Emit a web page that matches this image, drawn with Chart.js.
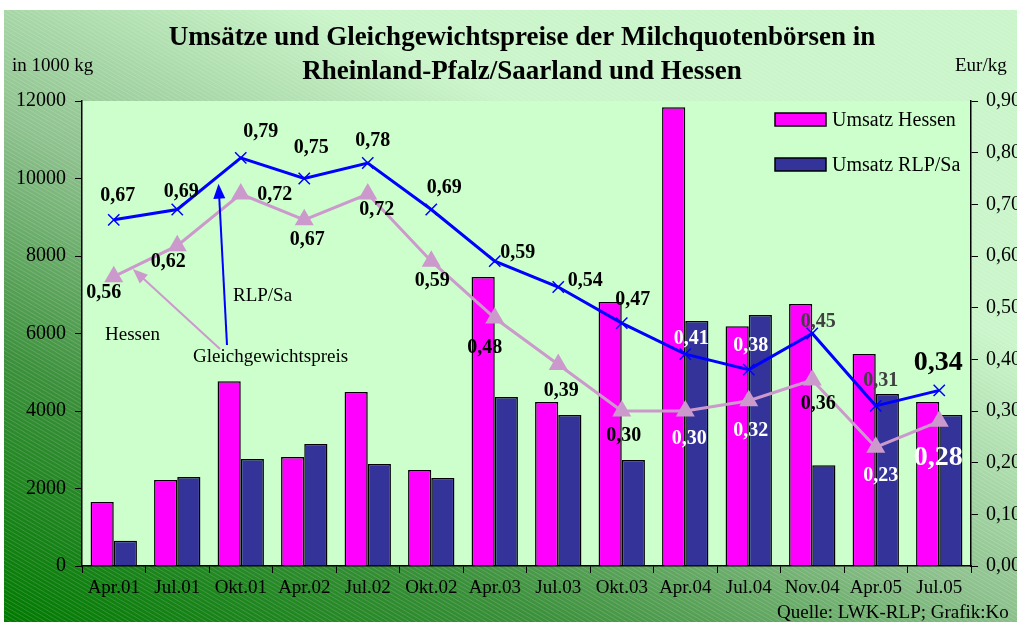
<!DOCTYPE html>
<html>
<head>
<meta charset="utf-8">
<script src="https://cdn.jsdelivr.net/npm/chart.js@4/dist/chart.umd.min.js"></script>
<style>
  html, body { margin: 0; padding: 0; background: #fff; overflow: hidden; }
  #wrap { width: 1017px; height: 622px; }
</style>
</head>
<body>
<div id="wrap"><canvas id="milchChart" width="1017" height="622"></canvas></div>
<script>
// Werte
const categories = ['Apr.01', 'Jul.01', 'Okt.01', 'Apr.02', 'Jul.02', 'Okt.02', 'Apr.03',
  'Jul.03', 'Okt.03', 'Apr.04', 'Jul.04', 'Nov.04', 'Apr.05', 'Jul.05'];
const umsatzHessen = [1650, 2220, 4770, 2810, 4490, 2480, 7460, 4230, 6810, 11840, 6190, 6760, 5470, 4230];
const umsatzRLP = [650, 2300, 2760, 3150, 2630, 2270, 4360, 3900, 2735, 6320, 6475, 2600, 4440, 3900];
const preisRLP = [0.67, 0.69, 0.79, 0.75, 0.78, 0.69, 0.59, 0.54, 0.47, 0.41, 0.38, 0.45, 0.31, 0.34];
const preisHessen = [0.56, 0.62, 0.72, 0.67, 0.72, 0.59, 0.48, 0.39, 0.30, 0.30, 0.32, 0.36, 0.23, 0.28];
const mengeTicks = [0, 2000, 4000, 6000, 8000, 10000, 12000];
const preisTicks = [0, 0.1, 0.2, 0.3, 0.4, 0.5, 0.6, 0.7, 0.8, 0.9];

const SERIF = '"Liberation Serif", "Times New Roman", serif';
const fmt = v => v.toFixed(2).replace('.', ',');

// Beschriftungen der Preise: [dx, dy, Farbe, Größe]
const labelRLP = [
  [4, -24, '#000', 20], [4, -18, '#000', 20], [20, -26, '#000', 20], [7, -31, '#000', 20],
  [5, -22, '#000', 20], [13, -22, '#000', 20], [23, -8, '#000', 20], [27, -6, '#000', 20],
  [11, -23, '#000', 20], [6, -15, '#fff', 20], [2, -24, '#fff', 20], [6, -12, '#404040', 20],
  [5, -25, '#404040', 20], [-1, -28, '#000', 28]
];
const labelHessen = [
  [-10, 16, '#000', 20], [-9, 16, '#000', 20], [34, 1, '#000', 20], [3, 20, '#000', 20],
  [9, 16, '#000', 20], [1, 20, '#000', 20], [-10, 30, '#000', 20], [3, 26, '#000', 20],
  [2, 25, '#000', 20], [4, 28, '#fff', 20], [2, 30, '#fff', 20], [6, 24, '#000', 20],
  [5, 29, '#fff', 20], [-1, 36, '#fff', 28]
];

const backgroundPlugin = {
  id: 'hintergrund',
  beforeDraw(chart) {
    const { ctx, chartArea: a, width, height } = chart;
    ctx.save();
    const g = ctx.createLinearGradient(0, height, 300, 0);
    g.addColorStop(0, '#007a00');
    g.addColorStop(0.35, '#3c913c');
    g.addColorStop(0.65, '#8cc08c');
    g.addColorStop(1, '#caf5ca');
    ctx.fillStyle = g;
    ctx.fillRect(4, 10, width - 4, height - 10);
    // feine Schraffur
    ctx.beginPath();
    ctx.rect(4, 10, width - 4, height - 10);
    ctx.clip();
    ctx.strokeStyle = 'rgba(255,255,255,0.16)';
    ctx.lineWidth = 1;
    for (let x = -height * 1.7; x < width; x += 7) {
      ctx.beginPath();
      ctx.moveTo(x, 10);
      ctx.lineTo(x + height * 1.7, 10 + height);
      ctx.stroke();
    }
    ctx.restore();
    ctx.save();
    ctx.fillStyle = '#ccffcc';
    ctx.fillRect(a.left, a.top, a.right - a.left, a.bottom - a.top);
    ctx.restore();
  }
};

function arrow(ctx, x1, y1, x2, y2, color) {
  const ang = Math.atan2(y2 - y1, x2 - x1);
  const len = 15, half = 6;
  ctx.strokeStyle = color;
  ctx.fillStyle = color;
  ctx.lineWidth = 2;
  ctx.beginPath();
  ctx.moveTo(x1, y1);
  ctx.lineTo(x2 - Math.cos(ang) * len * 0.8, y2 - Math.sin(ang) * len * 0.8);
  ctx.stroke();
  ctx.beginPath();
  ctx.moveTo(x2, y2);
  ctx.lineTo(x2 - Math.cos(ang) * len - Math.sin(ang) * half, y2 - Math.sin(ang) * len + Math.cos(ang) * half);
  ctx.lineTo(x2 - Math.cos(ang) * len + Math.sin(ang) * half, y2 - Math.sin(ang) * len - Math.cos(ang) * half);
  ctx.closePath();
  ctx.fill();
}

const textPlugin = {
  id: 'texte',
  afterDatasetsDraw(chart) {
    const { ctx, scales } = chart;
    const xs = scales.x, yp = scales.y1;
    ctx.save();
    ctx.textAlign = 'center';
    ctx.textBaseline = 'middle';

    // Preiswerte
    const drawLabels = (values, style) => {
      values.forEach((v, i) => {
        const [dx, dy, color, size] = style[i];
        ctx.font = 'bold ' + size + 'px ' + SERIF;
        ctx.fillStyle = color;
        ctx.fillText(fmt(v), xs.getPixelForValue(i) + dx, yp.getPixelForValue(v) + dy);
      });
    };
    drawLabels(preisRLP, labelRLP);
    drawLabels(preisHessen, labelHessen);

    // Hinweise mit Pfeilen
    ctx.font = '19px ' + SERIF;
    ctx.fillStyle = '#000';
    ctx.textAlign = 'left';
    ctx.fillText('Hessen', 105, 335);
    ctx.fillText('RLP/Sa', 233, 296);
    ctx.fillText('Gleichgewichtspreis', 193, 357);
    arrow(ctx, 227, 345, xs.getPixelForValue(1.65), yp.getPixelForValue(0.74), '#0000ff');
    arrow(ctx, 220, 349, xs.getPixelForValue(0.3), yp.getPixelForValue(0.575), '#cc99cc');

    // Legende
    const legend = [['Umsatz Hessen', '#ff00ff', 120], ['Umsatz RLP/Sa', '#333399', 165]];
    ctx.font = '20px ' + SERIF;
    legend.forEach(([txt, col, y]) => {
      ctx.fillStyle = col;
      ctx.fillRect(775, y - 7, 51, 13);
      ctx.strokeStyle = '#000';
      ctx.lineWidth = 1.5;
      ctx.strokeRect(775, y - 7, 51, 13);
      ctx.fillStyle = '#000';
      ctx.fillText(txt, 832, y + 1);
    });

    // Titel und Achsentitel
    ctx.textAlign = 'center';
    ctx.font = 'bold 27px ' + SERIF;
    ctx.fillText('Umsätze und Gleichgewichtspreise der Milchquotenbörsen in', 522, 38);
    ctx.fillText('Rheinland-Pfalz/Saarland und Hessen', 522, 72);
    ctx.font = '19px ' + SERIF;
    ctx.textAlign = 'left';
    ctx.fillText('in 1000 kg', 12, 66);
    ctx.fillText('Eur/kg', 955, 66);
    ctx.fillText('Quelle: LWK-RLP; Grafik:Ko', 777, 613);
    ctx.restore();
  }
};

const tickFont = { family: SERIF, size: 20 };

new Chart(document.getElementById('milchChart').getContext('2d'), {
  type: 'bar',
  data: {
    labels: categories,
    datasets: [
      {
        type: 'line',
        label: 'Gleichgewichtspreis RLP/Sa',
        data: preisRLP,
        yAxisID: 'y1',
        borderColor: '#0000ff',
        borderWidth: 3,
        pointStyle: 'crossRot',
        pointRadius: 8,
        pointBorderWidth: 1.5,
        pointBorderColor: '#0000ff',
        tension: 0,
        order: 0
      },
      {
        type: 'line',
        label: 'Gleichgewichtspreis Hessen',
        data: preisHessen,
        yAxisID: 'y1',
        borderColor: '#cc99cc',
        borderWidth: 3,
        pointStyle: 'triangle',
        pointRadius: 8,
        pointBackgroundColor: '#cc99cc',
        pointBorderColor: '#cc99cc',
        tension: 0,
        order: 1
      },
      {
        label: 'Umsatz Hessen',
        data: umsatzHessen,
        yAxisID: 'y',
        backgroundColor: '#ff00ff',
        borderColor: '#000',
        borderWidth: 1.5,
        categoryPercentage: 0.73,
        barPercentage: 1,
        order: 2
      },
      {
        label: 'Umsatz RLP/Sa',
        data: umsatzRLP,
        yAxisID: 'y',
        backgroundColor: '#333399',
        borderColor: '#000',
        borderWidth: 1.5,
        categoryPercentage: 0.73,
        barPercentage: 1,
        order: 2
      }
    ]
  },
  options: {
    responsive: false,
    animation: false,
    layout: { padding: { top: 101, left: 0, right: 0, bottom: 0 } },
    plugins: {
      legend: { display: false },
      title: { display: false },
      tooltip: { enabled: false }
    },
    scales: {
      x: {
        grid: { offset: true, drawOnChartArea: false, tickLength: 7, color: '#000' },
        border: { color: '#000', width: 1.5 },
        ticks: { font: { family: SERIF, size: 19 }, color: '#000', padding: 4, maxRotation: 0 },
        afterFit: s => { s.height = 56; }
      },
      y: {
        position: 'left',
        min: 0,
        max: 12000,
        afterBuildTicks: s => { s.ticks = mengeTicks.map(v => ({ value: v })); },
        ticks: { font: tickFont, color: '#000', padding: 9, callback: v => String(v) },
        grid: { drawOnChartArea: false, tickLength: 7, color: '#000' },
        border: { color: '#000', width: 1.5 },
        afterFit: s => { s.width = 82; }
      },
      y1: {
        position: 'right',
        min: 0,
        max: 0.9,
        afterBuildTicks: s => { s.ticks = preisTicks.map(v => ({ value: v })); },
        ticks: { font: tickFont, color: '#000', padding: 8, callback: v => fmt(v) },
        grid: { drawOnChartArea: false, tickLength: 7, color: '#000' },
        border: { color: '#000', width: 1.5 },
        afterFit: s => { s.width = 46; }
      }
    }
  },
  plugins: [backgroundPlugin, textPlugin]
});
</script>
</body>
</html>
